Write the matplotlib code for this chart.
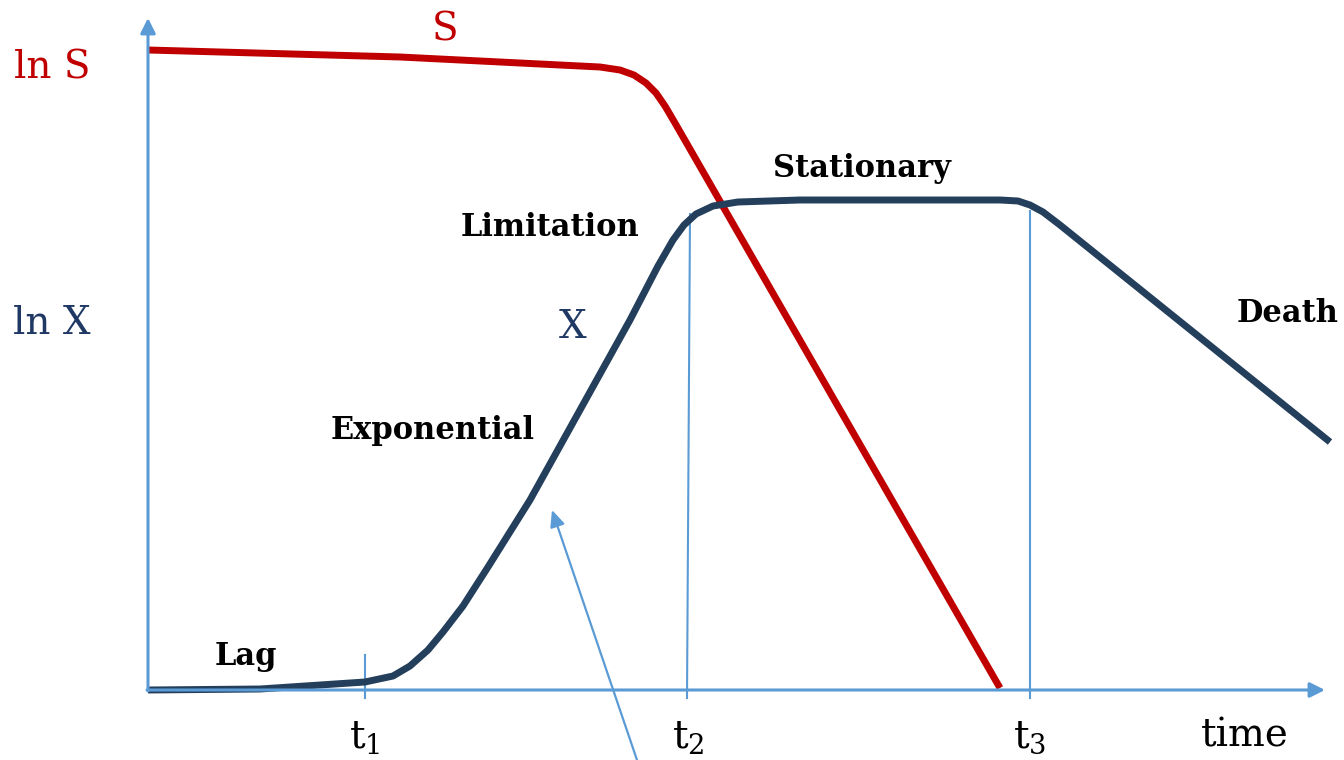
import numpy as np
import matplotlib.pyplot as plt

plt.rcParams['font.family'] = ['DejaVu Serif']
plt.rcParams['mathtext.fontset'] = 'dejavuserif'

# biomass curve X (time, ln X)
x_time = [0, 1.12, 2.17, 2.45, 2.62, 2.80, 2.95, 3.15, 3.40, 3.82, 4.32, 4.82,
          5.10, 5.25, 5.36, 5.48, 5.65, 5.90, 6.52, 8.52, 8.70, 8.82, 8.95, 9.12, 11.82]
x_val = [0, 0.01, 0.08, 0.14, 0.24, 0.40, 0.58, 0.84, 1.23, 1.90, 2.80, 3.70,
         4.24, 4.50, 4.65, 4.76, 4.84, 4.88, 4.90, 4.90, 4.89, 4.85, 4.78, 4.65, 2.48]

# substrate curve S (time, ln S)
s_time = [0, 2.52, 4.52, 4.72, 4.86, 4.98, 5.08, 5.17, 5.27, 8.52]
s_val = [6.40, 6.33, 6.23, 6.20, 6.15, 6.07, 5.97, 5.84, 5.67, 0.02]

t_marks = [2.17, 5.40, 8.82]
t_labels = [r'$\mathrm{t}_1$', r'$\mathrm{t}_2$', r'$\mathrm{t}_3$']

axis_c = '#5B9BD5'
red = '#C00000'
navy = '#243F5C'

fig = plt.figure(figsize=(13.44, 7.6), dpi=100)
ax = fig.add_axes([0, 0, 1, 1])
ax.set_xlim(-1.48, 11.96)
ax.set_ylim(-0.70, 6.90)
ax.axis('off')

# axes with arrows
ax.annotate('', xy=(0, 6.72), xytext=(0, -0.01),
            arrowprops=dict(arrowstyle='-|>,head_length=0.9,head_width=0.45',
                            color=axis_c, lw=2.2, shrinkA=0, shrinkB=0))
ax.annotate('', xy=(11.77, 0), xytext=(-0.01, 0),
            arrowprops=dict(arrowstyle='-|>,head_length=0.9,head_width=0.45',
                            color=axis_c, lw=2.2, shrinkA=0, shrinkB=0))

# time markers
ax.plot([t_marks[0], t_marks[0]], [-0.08, 0.35], color=axis_c, lw=1.5)
ax.plot([5.39, 5.42], [-0.08, 4.76], color=axis_c, lw=1.5)
ax.plot([t_marks[2], t_marks[2]], [-0.08, 4.79], color=axis_c, lw=1.5)

ax.plot(s_time, s_val, color=red, lw=5, solid_capstyle='butt', solid_joinstyle='round')
ax.plot(x_time, x_val, color=navy, lw=5, solid_capstyle='butt', solid_joinstyle='round')

# pointer arrow
ax.annotate('', xy=(4.04, 1.80), xytext=(4.89, -0.70),
            arrowprops=dict(arrowstyle='-|>,head_length=1.0,head_width=0.45',
                            color=axis_c, lw=1.6, shrinkA=0, shrinkB=0))

for t, lab in zip(t_marks, t_labels):
    ax.text(t, -0.48, lab, ha='center', va='center', fontsize=28, color='black')
ax.text(10.97, -0.46, 'time', ha='center', va='center', fontsize=28, color='black')

ax.text(-0.96, 6.22, 'ln S', ha='center', va='center', fontsize=28, color=red)
ax.text(2.97, 6.60, 'S', ha='center', va='center', fontsize=28, color=red)
ax.text(-0.96, 3.66, 'ln X', ha='center', va='center', fontsize=28, color='#1F3864')
ax.text(4.25, 3.62, 'X', ha='center', va='center', fontsize=28, color='#1F3864')

bold = dict(ha='center', va='center', fontsize=22, fontweight='bold', color='black')
ax.text(7.14, 5.22, 'Stationary', **bold)
ax.text(4.02, 4.62, 'Limitation', **bold)
ax.text(11.40, 3.77, 'Death', **bold)
ax.text(2.85, 2.60, 'Exponential', **bold)
ax.text(0.98, 0.33, 'Lag', **bold)

fig.savefig('out.png', dpi=100)
